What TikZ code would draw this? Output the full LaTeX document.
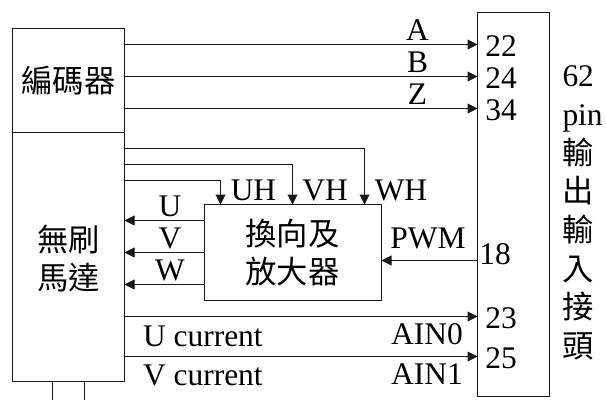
\documentclass[tikz,border=0pt]{standalone}
\usepackage{fontspec}
\setmainfont{Liberation Serif}
\newfontfamily\cjk{Noto Sans CJK TC}
\newcommand\sidecj[1]{{\cjk\fontsize{23.5pt}{29pt}\selectfont #1}}
\usetikzlibrary{arrows.meta}
\tikzset{
  x=0.75pt,y=-0.75pt,
  box/.style={draw=black!90,line width=0.75pt,inner sep=0pt,outer sep=0pt,anchor=north west},
  sig/.style={draw=black!90,line width=0.75pt,-{Triangle[length=7.5pt,width=7.5pt]}},
  wire/.style={draw=black!90,line width=0.75pt},
  lab/.style={inner sep=0pt,outer sep=0pt,font=\fontsize{23.6pt}{24pt}\selectfont},
  cn/.style={inner sep=0pt,outer sep=0pt,font=\fontsize{23.5pt}{29pt}\selectfont\cjk,align=center},
}
\begin{document}
\begin{tikzpicture}
\useasboundingbox (0,0) rectangle (606,400);
\node[box,minimum width=84pt,minimum height=78pt] (enc) at (12.5,28.5) {};
\node[box,minimum width=84pt,minimum height=186.75pt] (motor) at (12.5,132.5) {};
\node[box,minimum width=132.75pt,minimum height=72pt] (amp) at (204.5,204.5) {};
\node[box,minimum width=54pt,minimum height=288pt] (conn) at (477.5,12.5) {};
\node[cn] (tenc) at (68.5,81) {編碼器};
\node[cn] (tmotor) at (68.5,258.5) {無刷\\馬達};
\node[cn] (tamp) at (292.5,252.5) {換向及\\放大器};
\foreach \n/\yy in {pA/44.5,pB/76.5,pZ/108.5,p23/316.5,p25/356.5,pU/220.5,pV/252.5,pW/284.5,pPWM/260.5,lWH/148.5,lVH/164.5,lUH/180.5}
  \coordinate (\n) at (477,\yy);
\draw[sig] (enc.east |- pA) -- (conn.west |- pA);
\draw[sig] (enc.east |- pB) -- (conn.west |- pB);
\draw[sig] (enc.east |- pZ) -- (conn.west |- pZ);
\coordinate (xWH) at (364.5,148);
\coordinate (xVH) at (292.5,164);
\coordinate (xUH) at (220.5,180);
\draw[sig] (motor.east |- lWH) -| (amp.north -| xWH);
\draw[sig] (motor.east |- lVH) -| (amp.north -| xVH);
\draw[sig] (motor.east |- lUH) -| (amp.north -| xUH);
\draw[sig] (amp.west |- pU) -- (motor.east |- pU);
\draw[sig] (amp.west |- pV) -- (motor.east |- pV);
\draw[sig] (amp.west |- pW) -- (motor.east |- pW);
\draw[sig] (conn.west |- pPWM) -- (amp.east |- pPWM);
\draw[sig] (motor.east |- p23) -- (conn.west |- p23);
\draw[sig] (motor.east |- p25) -- (conn.west |- p25);
\coordinate (sL) at (52.5,400);
\coordinate (sR) at (84.5,400);
\draw[wire] (motor.south -| sL) -- (sL);
\draw[wire] (motor.south -| sR) -- (sR);
\node[lab] (tA) at (417.5,30) {A};
\node[lab] (tB) at (417.5,62) {B};
\node[lab] (tZ) at (417.5,94) {Z};
\node[lab] (t22) at (501,46) {22};
\node[lab] (t24) at (501,78) {24};
\node[lab] (t34) at (501,110) {34};
\node[lab] (tUH) at (253.5,190) {UH};
\node[lab] (tVH) at (325,190) {VH};
\node[lab] (tWH) at (401,190) {WH};
\node[lab] (tU) at (170,206) {U};
\node[lab] (tV) at (170,238) {V};
\node[lab] (tW) at (170,270) {W};
\node[lab] (tPWM) at (428,238) {PWM};
\node[lab] (t18) at (495,254) {18};
\node[lab] (t23) at (501,318) {23};
\node[lab] (t25) at (501,358) {25};
\node[lab,anchor=west] (tUc) at (143,336) {U current};
\node[lab,anchor=west] (tVc) at (143,375) {V current};
\node[lab] (tA0) at (427,334) {AIN0};
\node[lab] (tA1) at (427,374) {AIN1};
\node[inner sep=0pt,outer sep=0pt,anchor=north west,align=left,font=\fontsize{23.6pt}{29pt}\selectfont] (side) at (562.5,66) {62\\pin\\\sidecj{輸}\\\sidecj{出}\\\sidecj{輸}\\\sidecj{入}\\\sidecj{接}\\\sidecj{頭}};
\end{tikzpicture}
\end{document}
